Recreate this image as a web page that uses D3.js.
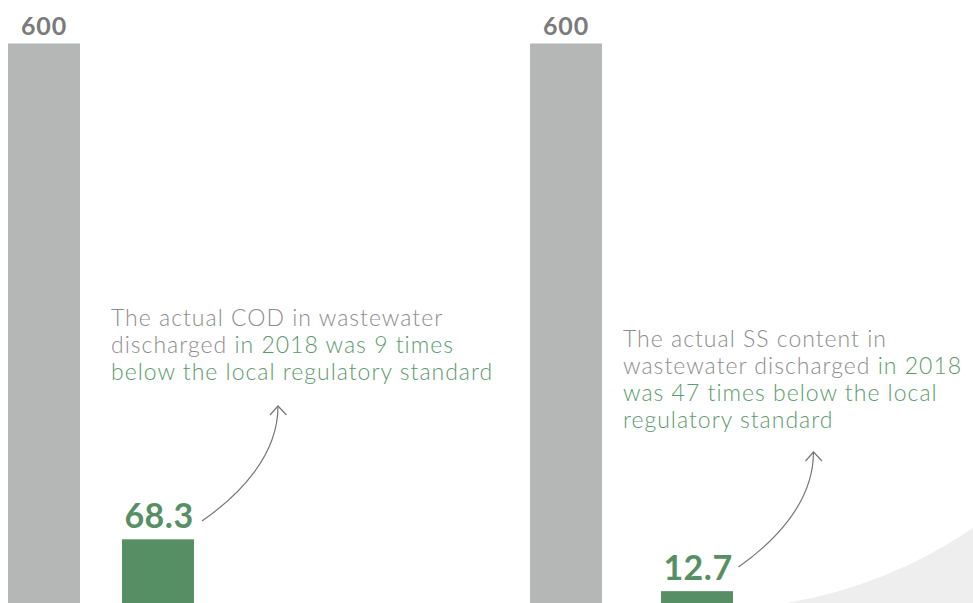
<!DOCTYPE html>
<html>
<head>
<meta charset="utf-8">
<script src="https://cdn.jsdelivr.net/npm/d3@7"></script>
<style>
  html, body { margin: 0; padding: 0; background: #ffffff; }
  svg { display: block; }
</style>
</head>
<body>
<svg id="chart" width="973" height="603"></svg>
<script>
// ---- data ----
const categories = ["Regulatory standard", "Actual 2018"];
const codValues = [600, 68.3];
const ssValues = [600, 12.7];
const valueLabels = [["600", "68.3"], ["600", "12.7"]];
const codNote = [
  [["The actual COD in wastewater", "grey"]],
  [["discharged ", "grey"], ["in 2018 was 9 times", "green"]],
  [["below the local regulatory standard", "green"]]
];
const ssNote = [
  [["The actual SS content in", "grey"]],
  [["wastewater discharged ", "grey"], ["in 2018", "green"]],
  [["was 47 times below the local", "green"]],
  [["regulatory standard", "green"]]
];

// ---- layout / style ----
const W = 973, H = 603;
const colors = { bar: ["#b5b7b6", "#568f64"], grey: "#8d8d8d", green: "#5c9a6d", label: ["#7b7b7b", "#568f64"] };
const panels = [
  { values: codValues, labels: valueLabels[0], note: codNote, range: [8, 194], gap: 42,
    noteX: 111, noteY: 326, arrowStart: [202, 521], arrowEnd: [278, 406] },
  { values: ssValues, labels: valueLabels[1], note: ssNote, range: [530, 733], gap: 59,
    noteX: 623, noteY: 347, arrowStart: [738.5, 567], arrowEnd: [813.5, 452] }
];

const svg = d3.select("#chart");

// decorative background swoosh at bottom right
svg.append("path")
  .attr("d", "M786.7,603 A473,473 0 0 0 973,528 L973,603 Z")
  .attr("fill", "#eeeeee");

const y = d3.scaleLinear().domain([0, 600]).range([H, 43.5]);

panels.forEach(p => {
  const bw = 72;
  const x = d3.scaleBand()
    .domain(categories)
    .range(p.range)
    .paddingInner(p.gap / (bw + p.gap))
    .paddingOuter(0);

  const g = svg.append("g");

  g.selectAll("rect")
    .data(p.values)
    .join("rect")
    .attr("x", (d, i) => x(categories[i]))
    .attr("y", d => y(d))
    .attr("width", x.bandwidth())
    .attr("height", d => H - y(d))
    .attr("fill", (d, i) => colors.bar[i]);

  g.selectAll("text.val")
    .data(p.values)
    .join("text")
    .attr("class", "val")
    .attr("x", (d, i) => x(categories[i]) + x.bandwidth() / 2 + (i === 1 ? 1 : 0))
    .attr("y", (d, i) => y(d) - (i === 0 ? 9 : 11))
    .attr("text-anchor", "middle")
    .attr("font-family", "Lato, 'Open Sans', sans-serif")
    .attr("font-weight", 700)
    .attr("letter-spacing", (d, i) => i === 0 ? 0.8 : 0.5)
    .attr("font-size", (d, i) => i === 0 ? 25 : 34)
    .attr("fill", (d, i) => colors.label[i])
    .text((d, i) => p.labels[i]);

  // note text
  const note = g.append("text")
    .attr("font-family", "Lato, 'Open Sans', sans-serif")
    .attr("font-weight", 300)
    .attr("letter-spacing", 1)
    .attr("font-size", 23);
  p.note.forEach((line, li) => {
    line.forEach((seg, si) => {
      const t = note.append("tspan")
        .attr("fill", colors[seg[1]])
        .attr("xml:space", "preserve")
        .style("white-space", "pre")
        .text(seg[0]);
      if (si === 0) t.attr("x", p.noteX).attr("y", p.noteY + li * 27);
    });
  });

  // curved arrow
  const [sx, sy] = p.arrowStart, [ex, ey] = p.arrowEnd;
  const dx = ex - sx, dy = ey - sy;
  const path = d3.path();
  path.moveTo(sx, sy);
  path.bezierCurveTo(sx + dx * 0.5, sy + dy * 0.23, ex, sy + dy * 0.57, ex, ey);
  g.append("path")
    .attr("d", path.toString())
    .attr("fill", "none")
    .attr("stroke", "#777")
    .attr("stroke-width", 1.2);
  g.append("path")
    .attr("d", `M${ex - 8},${ey + 9} L${ex},${ey} L${ex + 8.5},${ey + 9}`)
    .attr("fill", "none")
    .attr("stroke", "#777")
    .attr("stroke-width", 1.2);
});
</script>
</body>
</html>
